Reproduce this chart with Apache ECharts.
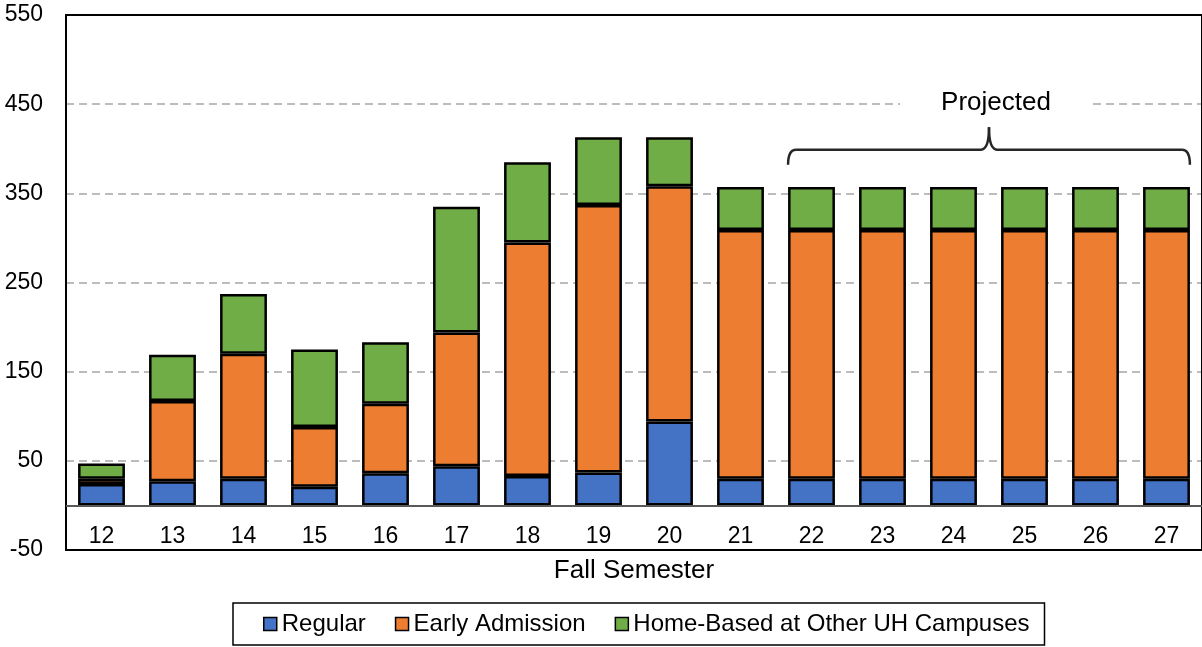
<!DOCTYPE html>
<html>
<head>
<meta charset="utf-8">
<script src="https://cdn.jsdelivr.net/npm/echarts@6/dist/echarts.min.js"></script>
<style>
  html, body { margin: 0; padding: 0; background: #fff; }
  #main { width: 1202px; height: 647px; }
</style>
</head>
<body>
<div id="main"></div>
<script>
// Fall semester (two-digit year)
var semesters = ['12', '13', '14', '15', '16', '17', '18', '19', '20', '21', '22', '23', '24', '25', '26', '27'];
var regular = [24, 27, 30, 21, 36, 44, 33, 37, 94, 30, 30, 30, 30, 30, 30, 30];
var earlyAdmission = [6, 90, 140, 67, 78, 150, 262, 300, 264, 279, 279, 279, 279, 279, 279, 279];
var homeBased = [17, 52, 67, 87, 69, 141, 90, 76, 55, 48, 48, 48, 48, 48, 48, 48];
var seriesNames = ['Regular', 'Early Admission', 'Home-Based at Other UH Campuses'];
var seriesColors = ['#4472C4', '#ED7D31', '#70AD47'];
var projectedRange = ['22', '27'];

var font = "'Liberation Sans', Arial, sans-serif";
var chart = echarts.init(document.getElementById('main'));

function barSeries(name, data, color) {
  return {
    name: name,
    type: 'bar',
    stack: 'total',
    barWidth: '66%',
    data: data,
    itemStyle: { color: color, borderColor: '#000', borderWidth: 2.5 }
  };
}

var series = [
  barSeries(seriesNames[0], regular, seriesColors[0]),
  barSeries(seriesNames[1], earlyAdmission, seriesColors[1]),
  barSeries(seriesNames[2], homeBased, seriesColors[2])
];
// zero line
series[0].markLine = {
  silent: true,
  symbol: 'none',
  label: { show: false },
  lineStyle: { color: '#595959', width: 2, type: 'solid' },
  data: [{ yAxis: 0 }]
};

var option = {
  animation: false,
  textStyle: { fontFamily: font },
  grid: {
    left: 66, right: -5, top: 15, bottom: 97,
    show: true, z: 5,
    borderColor: '#000', borderWidth: 2,
    backgroundColor: 'transparent'
  },
  legend: {
    left: 233, top: 603,
    padding: [9, 15, 9, 30],
    itemGap: 29,
    itemWidth: 13, itemHeight: 13,
    icon: 'rect',
    borderColor: '#000', borderWidth: 1.5,
    itemStyle: { borderColor: '#000', borderWidth: 1.5 },
    textStyle: { fontSize: 24, color: '#000', fontFamily: font },
    data: seriesNames
  },
  xAxis: {
    type: 'category',
    data: semesters,
    axisLine: { show: false, onZero: false },
    axisTick: { show: false },
    axisLabel: { inside: true, fontSize: 23, color: '#000', margin: 2, fontFamily: font },
    name: 'Fall Semester',
    nameLocation: 'middle',
    nameGap: 8,
    nameTextStyle: { fontSize: 26, color: '#000', fontFamily: font }
  },
  yAxis: {
    type: 'value',
    min: -50, max: 550, interval: 100,
    axisLine: { show: false },
    axisTick: { show: false },
    axisLabel: { fontSize: 23, color: '#000', margin: 23, fontFamily: font },
    splitLine: { lineStyle: { color: '#a6a6a6', width: 1.5, type: [8, 5] } }
  },
  series: series
};

chart.setOption(option);

// "Projected" bracket over the forecast years
var a = chart.convertToPixel({ gridIndex: 0 }, [projectedRange[0], 0]);
var b = chart.convertToPixel({ gridIndex: 0 }, [projectedRange[1], 0]);
var band = (b[0] - a[0]) / (semesters.indexOf(projectedRange[1]) - semesters.indexOf(projectedRange[0]));
var half = band * 0.33;
var x1 = a[0] - half, x2 = b[0] + half, xm = (x1 + x2) / 2;
var yEnd = chart.convertToPixel({ yAxisIndex: 0 }, 382);
var yLine = chart.convertToPixel({ yAxisIndex: 0 }, 399);
var yTip = chart.convertToPixel({ yAxisIndex: 0 }, 424);
var yText = chart.convertToPixel({ yAxisIndex: 0 }, 452);
var r = 8;
var braceStyle = { fill: 'none', stroke: '#262626', lineWidth: 2.5 };

function curve(sx, sy, cx, cy, ex, ey) {
  return { type: 'bezierCurve', z: 10, shape: { x1: sx, y1: sy, cpx1: cx, cpy1: cy, x2: ex, y2: ey }, style: braceStyle };
}
function seg(sx, sy, ex, ey) {
  return { type: 'line', z: 10, shape: { x1: sx, y1: sy, x2: ex, y2: ey }, style: braceStyle };
}

chart.setOption({
  graphic: [
    curve(x1, yEnd, x1, yLine, x1 + r, yLine),
    seg(x1 + r, yLine, xm - r, yLine),
    curve(xm - r, yLine, xm, yLine, xm, yTip),
    curve(xm, yTip, xm, yLine, xm + r, yLine),
    seg(xm + r, yLine, x2 - r, yLine),
    curve(x2 - r, yLine, x2, yLine, x2, yEnd),
    {
      type: 'text', z: 10,
      x: xm + 7, y: yText,
      style: {
        text: 'Projected', fontSize: 26, fontFamily: font, fill: '#000',
        align: 'center', verticalAlign: 'middle',
        backgroundColor: '#fff', padding: [6, 41]
      }
    }
  ]
});
</script>
</body>
</html>
